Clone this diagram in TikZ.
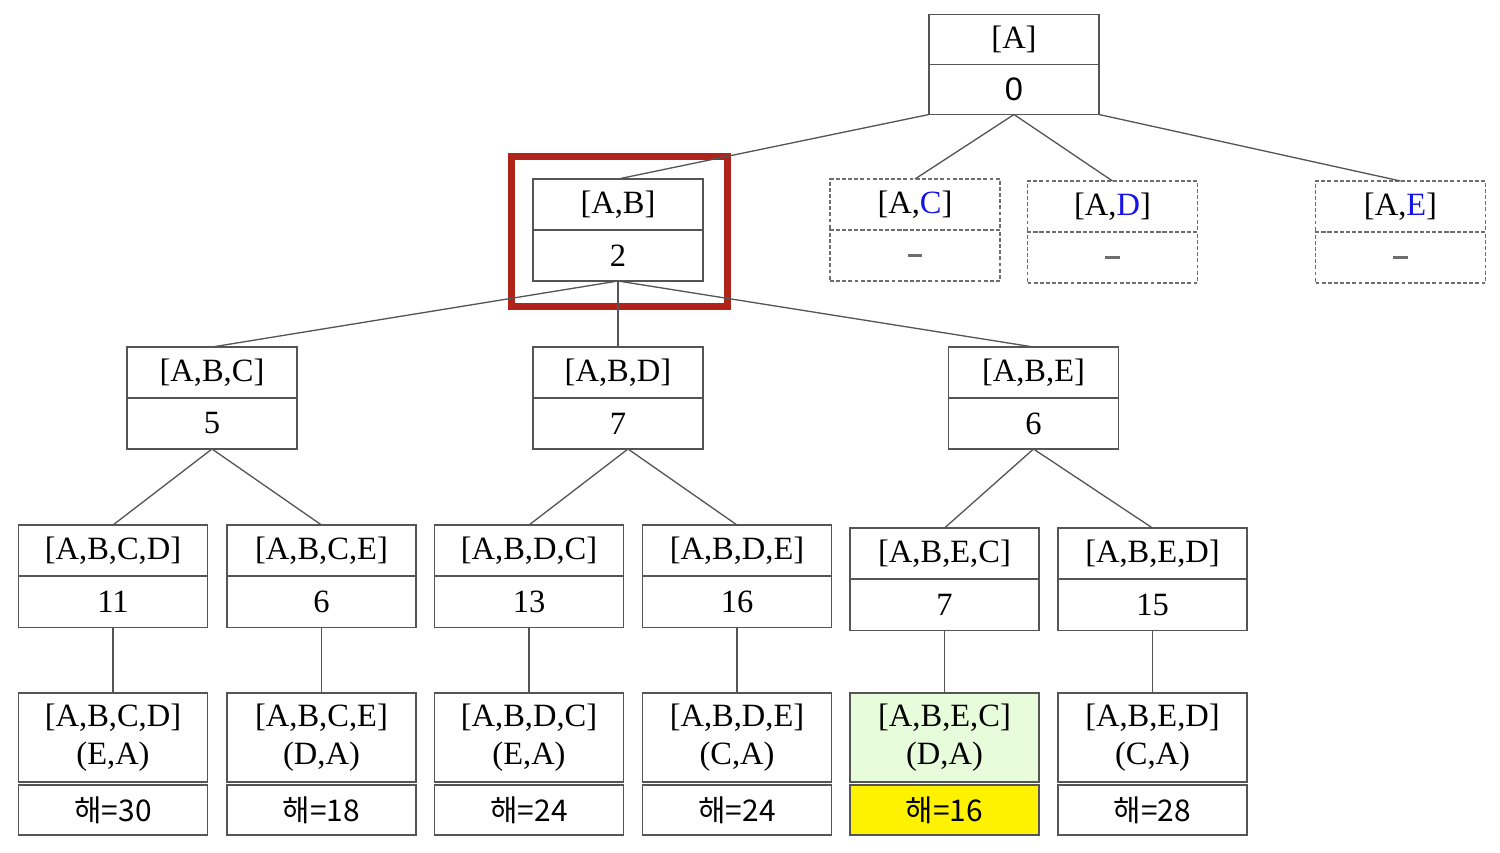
\documentclass[tikz,border=0pt]{standalone}
\usepackage{fontspec}
\setmainfont{Liberation Serif}
\newfontfamily\krfont{Noto Sans CJK KR}
\newfontfamily\sansfont{Liberation Sans}
\definecolor{linegray}{RGB}{85,85,85}
\definecolor{dashgray}{RGB}{110,110,110}
\definecolor{hlred}{RGB}{175,35,25}
\definecolor{leafgreen}{RGB}{230,252,218}
\definecolor{letterblue}{RGB}{20,20,230}
\newcommand{\nodash}{\textcolor{dashgray}{\rule[-1pt]{8.5pt}{1.6pt}}}
\tikzset{
  box/.style={draw=linegray, line width=0.85pt, inner sep=0pt, outer sep=0pt,
    font=\fontsize{18.5}{21.5}\selectfont, minimum width=3.4cm, minimum height=1.02cm, align=center},
  dbox/.style={box, draw=dashgray, dash pattern=on 2.2pt off 1.3pt},
  wbox/.style={box, minimum width=3.78cm},
  leafbox/.style={wbox, minimum height=1.78cm},
  solbox/.style={wbox, minimum height=1.0cm, font=\krfont\fontsize{17}{20}\selectfont},
  edge/.style={draw=linegray, line width=0.75pt},
  hl/.style={draw=hlred, line width=3.97pt, minimum width=4.32cm, minimum height=3.0cm, inner sep=0pt, outer sep=0pt}
}
\begin{document}
\begin{tikzpicture}[x=0.02cm, y=-0.02cm]
\useasboundingbox (0,0) rectangle (1500,852);
% root
\node[box, minimum height=1.0cm] (r) at (1014,39.5) {[A]};
\node[box, minimum height=1.0cm, font=\sansfont\fontsize{18.5}{21.5}\selectfont] (rv) at (1014,89.5) {0};
% level 1
\node[box] (ab) at (618,204.5) {[A,B]};
\node[box] (abv) at (618,255.5) {2};
\node[dbox] (ac) at (915,204.5) {[A,\textcolor{letterblue}{C}]};
\node[dbox] (acv) at (915,255.5) {\nodash};
\node[dbox] (ad) at (1112.5,206.5) {[A,\textcolor{letterblue}{D}]};
\node[dbox] (adv) at (1112.5,257.5) {\nodash};
\node[dbox] (ae) at (1400.5,206.5) {[A,\textcolor{letterblue}{E}]};
\node[dbox] (aev) at (1400.5,257.5) {\nodash};
\node[hl] (hlbox) at (619.5,231.5) {};
% level 2
\node[box] (abc) at (212,372.5) {[A,B,C]};
\node[box] (abcv) at (212,423.5) {5};
\node[box] (abd) at (618,372.5) {[A,B,D]};
\node[box] (abdv) at (618,423.5) {7};
\node[box] (abe) at (1033.5,372.5) {[A,B,E]};
\node[box] (abev) at (1033.5,423.5) {6};
% level 3
\node[wbox] (abcd) at (113,550.5) {[A,B,C,D]};
\node[wbox] (abcdv) at (113,602) {11};
\node[wbox] (abce) at (321.5,550.5) {[A,B,C,E]};
\node[wbox] (abcev) at (321.5,602) {6};
\node[wbox] (abdc) at (529,550.5) {[A,B,D,C]};
\node[wbox] (abdcv) at (529,602) {13};
\node[wbox] (abde) at (737,550.5) {[A,B,D,E]};
\node[wbox] (abdev) at (737,602) {16};
\node[wbox] (abec) at (944.5,553.5) {[A,B,E,C]};
\node[wbox] (abecv) at (944.5,605) {7};
\node[wbox] (abed) at (1152.5,553.5) {[A,B,E,D]};
\node[wbox] (abedv) at (1152.5,605) {15};
% leaves
\node[leafbox] (l1) at (113,737.5) {[A,B,C,D]\\(E,A)};
\node[solbox] (s1) at (113,810) {해=30};
\node[leafbox] (l2) at (321.5,737.5) {[A,B,C,E]\\(D,A)};
\node[solbox] (s2) at (321.5,810) {해=18};
\node[leafbox] (l3) at (529,737.5) {[A,B,D,C]\\(E,A)};
\node[solbox] (s3) at (529,810) {해=24};
\node[leafbox] (l4) at (737,737.5) {[A,B,D,E]\\(C,A)};
\node[solbox] (s4) at (737,810) {해=24};
\node[leafbox, fill=leafgreen] (l5) at (944.5,737.5) {[A,B,E,C]\\(D,A)};
\node[solbox, fill=yellow] (s5) at (944.5,810) {해=16};
\node[leafbox] (l6) at (1152.5,737.5) {[A,B,E,D]\\(C,A)};
\node[solbox] (s6) at (1152.5,810) {해=28};
% edges
\draw[edge] (rv.south west) -- (ab.north);
\draw[edge] (rv.south) -- (ac.north);
\draw[edge] (rv.south) -- (ad.north);
\draw[edge] (rv.south east) -- (ae.north);
\draw[edge] (abv.south) -- (abc.north);
\draw[edge] (abv.south) -- (abd.north);
\draw[edge] (abv.south) -- (abe.north);
\draw[edge] (abcv.south) -- (abcd.north);
\draw[edge] (abcv.south) -- (abce.north);
\draw[edge] ([xshift=0.2cm]abdv.south) -- (abdc.north);
\draw[edge] ([xshift=0.2cm]abdv.south) -- (abde.north);
\draw[edge] (abev.south) -- (abec.north);
\draw[edge] (abev.south) -- (abed.north);
\draw[edge] (abcdv.south) -- (l1.north);
\draw[edge] (abcev.south) -- (l2.north);
\draw[edge] (abdcv.south) -- (l3.north);
\draw[edge] (abdev.south) -- (l4.north);
\draw[edge] (abecv.south) -- (l5.north);
\draw[edge] (abedv.south) -- (l6.north);
\end{tikzpicture}
\end{document}
